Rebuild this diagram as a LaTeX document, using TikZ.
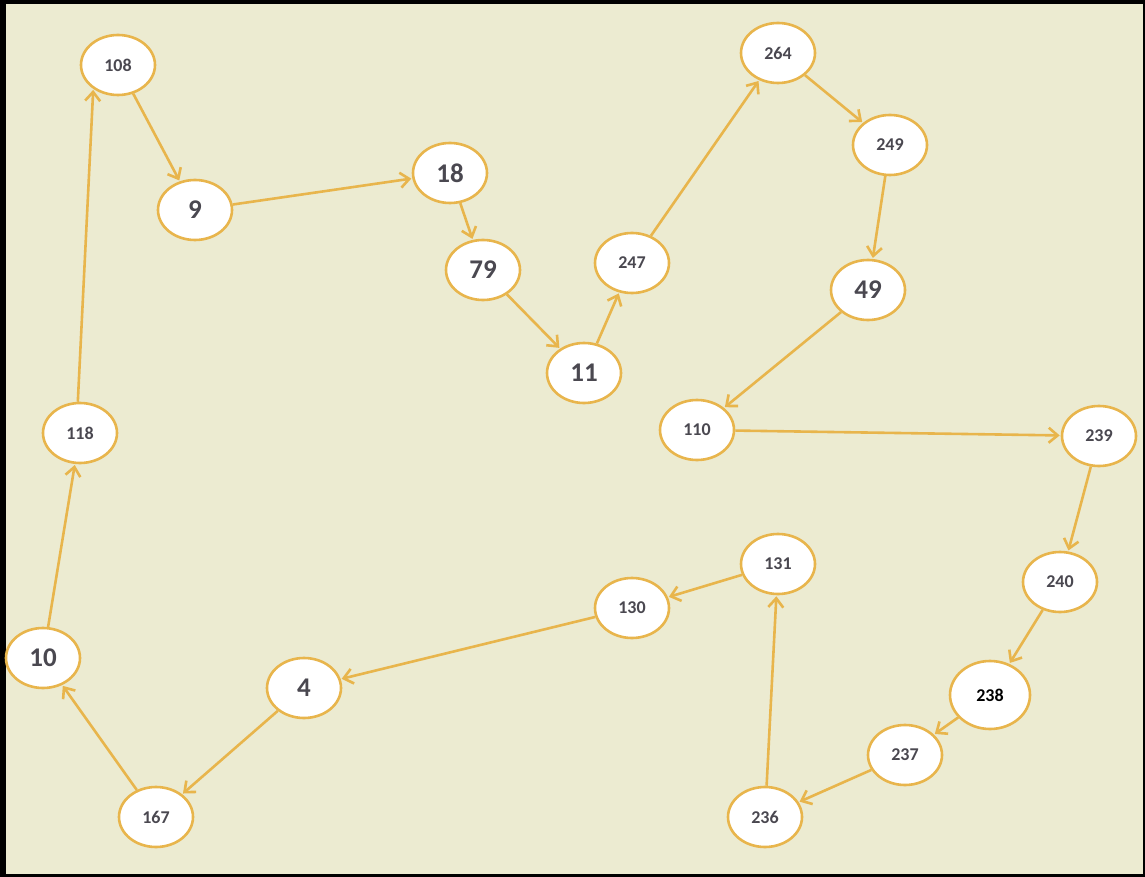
\documentclass[tikz,border=0pt]{standalone}
\usepackage{fontspec}
\setmainfont{Carlito}
\usetikzlibrary{arrows.meta,shapes.geometric}
\definecolor{bg}{HTML}{ECEBD1}
\definecolor{edge}{HTML}{E8B54C}
\definecolor{txt}{HTML}{4A4850}
\begin{document}
\begin{tikzpicture}[x=1pt,y=-1pt,
  nd/.style={ellipse,draw=edge,line width=2.6pt,fill=white,minimum width=74pt,minimum height=60pt,inner sep=0pt,text=txt,font=\bfseries\fontsize{18}{18}\selectfont},
  big/.style={font=\bfseries\fontsize{27}{27}\selectfont},
  bigger/.style={minimum width=80pt,minimum height=68pt,text=black},
  arr/.style={draw=edge,line width=2.6pt,-{Straight Barb[length=9pt,width=15pt,line width=2.6pt]},shorten >=1pt}]
\fill[black] (0,0) rectangle (1145,877);
\fill[bg] (6,4) rectangle (1143,874);
\useasboundingbox (0,0) rectangle (1145,877);
\node[nd] (n108) at (118,65) {108};
\node[nd,big] (n9) at (195,210) {9};
\node[nd,big] (n18) at (450,173) {18};
\node[nd,big] (n79) at (483,270) {79};
\node[nd,big] (n11) at (584,373) {11};
\node[nd] (n247) at (632,263) {247};
\node[nd] (n264) at (778,53) {264};
\node[nd] (n249) at (890,145) {249};
\node[nd,big] (n49) at (868,290) {49};
\node[nd] (n110) at (697,430) {110};
\node[nd] (n239) at (1099,436) {239};
\node[nd] (n240) at (1060,582) {240};
\node[nd,bigger] (n238) at (990,695) {238};
\node[nd] (n237) at (905,755) {237};
\node[nd] (n236) at (765,817) {236};
\node[nd] (n131) at (778,564) {131};
\node[nd] (n130) at (632,608) {130};
\node[nd,big] (n4) at (304,688) {4};
\node[nd] (n167) at (156,817) {167};
\node[nd,big] (n10) at (43,658) {10};
\node[nd] (n118) at (80,433) {118};
\foreach \a/\b in {108/9,9/18,18/79,79/11,11/247,247/264,264/249,249/49,49/110,110/239,239/240,240/238,238/237,237/236,236/131,131/130,130/4,4/167,167/10,10/118}
  \draw[arr] (n\a) -- (n\b);
\draw[arr] (n118.94) -- (n108.-136);
\end{tikzpicture}
\end{document}
